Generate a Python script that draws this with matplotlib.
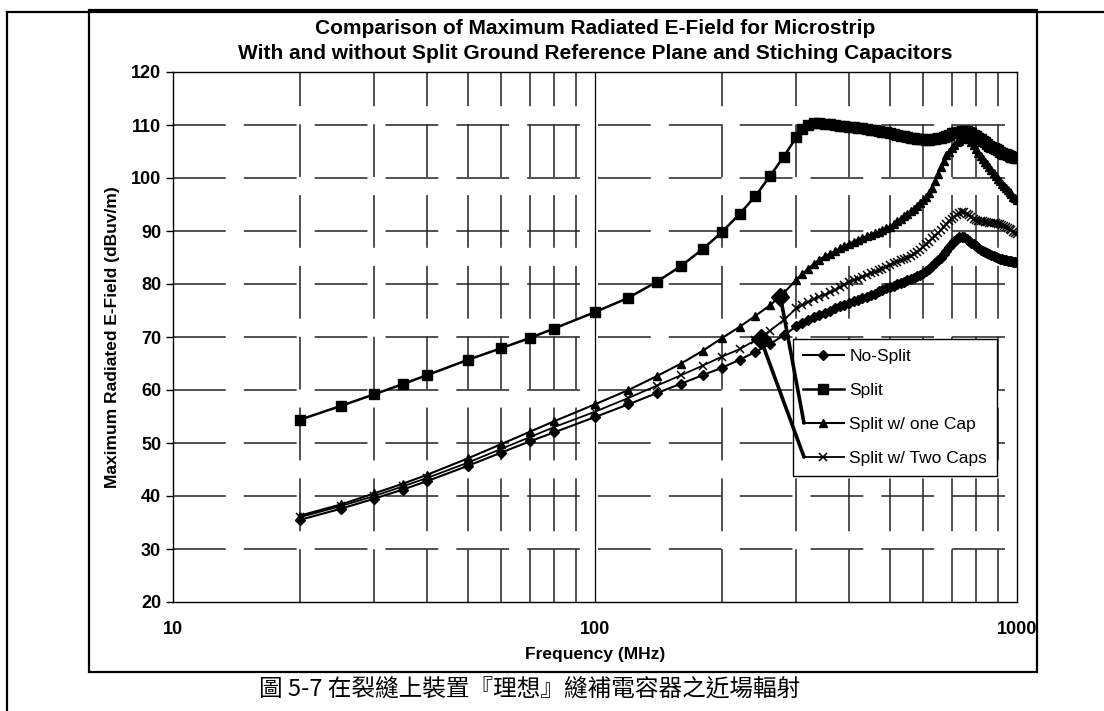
import matplotlib
matplotlib.use("Agg")
import matplotlib.pyplot as plt
from matplotlib.lines import Line2D
from matplotlib.patches import Rectangle
from matplotlib.ticker import FixedLocator, NullFormatter

# frequencies (MHz)
freq = [20, 25, 30, 35, 40, 50, 60, 70, 80, 100,
        120, 140, 160, 180, 200, 220, 240, 260, 280,
        300, 310, 320, 330, 340, 350, 360, 370, 380, 390,
        400, 410, 420, 430, 440, 450, 460, 470, 480, 490,
        500, 510, 520, 530, 540, 550, 560, 570, 580, 590,
        600, 610, 620, 630, 640, 650, 660, 670, 680, 690,
        700, 710, 720, 730, 740, 750, 760, 770, 780, 790,
        800, 810, 820, 830, 840, 850, 860, 870, 880, 890,
        900, 910, 920, 930, 940, 950, 960, 970, 980, 990, 1000]

no_split = [35.5, 37.6, 39.5, 41.2, 42.8, 45.7, 48.2, 50.3, 52.0, 54.9,
            57.3, 59.4, 61.2, 62.8, 64.2, 65.7, 67.2, 68.7, 70.3,
            72.0, 72.6, 73.2, 73.7, 74.1, 74.6, 75.0, 75.5, 75.8, 76.1,
            76.4, 76.7, 77.0, 77.3, 77.6, 77.9, 78.2, 78.6, 78.9, 79.2,
            79.5, 79.7, 80.0, 80.2, 80.4, 80.7, 80.9, 81.2, 81.5, 81.7,
            82.0, 82.4, 82.9, 83.4, 84.0, 84.5, 85.0, 85.6, 86.2, 86.9,
            87.6, 88.1, 88.5, 88.8, 88.9, 88.8, 88.5, 88.2, 87.8, 87.5,
            87.1, 86.8, 86.5, 86.2, 86.0, 85.8, 85.6, 85.4, 85.3, 85.1,
            85.0, 84.8, 84.7, 84.6, 84.5, 84.4, 84.3, 84.3, 84.2, 84.2, 84.2]

split = [54.4, 57.0, 59.2, 61.1, 62.8, 65.7, 67.9, 69.8, 71.6, 74.7,
         77.4, 80.4, 83.4, 86.6, 89.8, 93.2, 96.6, 100.4, 104.0,
         107.7, 109.2, 110.0, 110.3, 110.3, 110.2, 110.1, 110.0, 109.9, 109.8,
         109.7, 109.6, 109.5, 109.4, 109.2, 109.1, 109.0, 108.9, 108.7, 108.6,
         108.5, 108.3, 108.2, 108.0, 107.9, 107.8, 107.6, 107.5, 107.4, 107.3,
         107.3, 107.2, 107.2, 107.3, 107.4, 107.5, 107.6, 107.8, 108.0, 108.2,
         108.4, 108.5, 108.6, 108.7, 108.8, 108.8, 108.8, 108.7, 108.5, 108.2,
         107.9, 107.6, 107.3, 107.0, 106.7, 106.4, 106.1, 105.9, 105.6, 105.4,
         105.2, 105.0, 104.8, 104.6, 104.5, 104.3, 104.2, 104.0, 103.9, 103.8, 103.7]

one_cap = [36.3, 38.4, 40.5, 42.3, 44.0, 47.1, 49.8, 52.1, 54.1, 57.3,
           60.0, 62.6, 65.0, 67.4, 69.8, 71.9, 74.0, 76.0, 78.3,
           80.8, 81.9, 82.9, 83.8, 84.6, 85.2, 85.7, 86.2, 86.7, 87.2,
           87.6, 88.0, 88.3, 88.7, 89.0, 89.3, 89.6, 89.9, 90.2, 90.5,
           90.8, 91.3, 91.8, 92.3, 92.8, 93.2, 93.7, 94.2, 94.8, 95.3,
           95.8, 96.4, 97.2, 98.1, 99.5, 100.8, 102.0, 103.3, 104.3, 105.0,
           105.7, 106.2, 106.7, 107.0, 107.3, 107.5, 107.5, 107.3, 106.8, 106.2,
           105.5, 104.8, 104.2, 103.6, 103.1, 102.6, 102.1, 101.6, 101.0, 100.4,
           99.8, 99.4, 98.9, 98.5, 98.1, 97.7, 97.3, 96.9, 96.5, 96.2, 95.8]

two_caps = [36.0, 38.1, 40.0, 41.8, 43.4, 46.3, 48.9, 51.1, 53.0, 55.9,
            58.5, 60.8, 62.8, 64.6, 66.3, 67.7, 69.4, 71.2, 73.2,
            75.4, 76.0, 76.6, 77.1, 77.6, 78.0, 78.4, 78.8, 79.4, 79.9,
            80.4, 80.7, 81.0, 81.4, 81.7, 82.0, 82.3, 82.6, 82.9, 83.3,
            83.6, 83.9, 84.2, 84.5, 84.7, 85.0, 85.3, 85.7, 86.1, 86.5,
            87.0, 87.5, 88.0, 88.6, 89.1, 89.6, 90.1, 90.7, 91.3, 91.8,
            92.3, 92.7, 93.1, 93.4, 93.6, 93.5, 93.3, 93.0, 92.7, 92.3,
            92.0, 91.9, 91.8, 91.8, 91.7, 91.7, 91.6, 91.6, 91.5, 91.5,
            91.4, 91.3, 91.1, 90.9, 90.7, 90.5, 90.3, 90.1, 89.9, 89.7, 89.5]

labels = ["No-Split", "Split", "Split w/ one Cap", "Split w/ Two Caps"]
y_ticks = [20, 30, 40, 50, 60, 70, 80, 90, 100, 110, 120]
x_ticks = [10, 100, 1000]
x_minor = [20, 30, 40, 50, 60, 70, 80, 90, 200, 300, 400, 500, 600, 700, 800, 900]

# callout targets (freq, value) for the legend leader lines
callout_one = (275, 77.6)
callout_two = (247, 69.6)

title = ("Comparison of Maximum Radiated E-Field for Microstrip\n"
         "With and without Split Ground Reference Plane and Stiching Capacitors")
caption = "圖 5-7 在裂縫上裝置『理想』縫補電容器之近場輻射"

plt.rcParams["font.family"] = ["Liberation Sans", "DejaVu Sans"]
plt.rcParams["lines.scale_dashes"] = False

W, H = 1104, 711
fig = plt.figure(figsize=(W / 100, H / 100), dpi=100)
ax = fig.add_axes([173 / W, 1 - 602 / H, (1017 - 173) / W, (602 - 72) / H])


def px(x, y):
    return x / W, 1 - y / H


# page frame + chart frame
fig.add_artist(Line2D([px(7, 0)[0], px(7, 0)[0]], [px(0, 12)[1], 0], color="black", lw=1.6))
fig.add_artist(Line2D([px(7, 0)[0], 1], [px(0, 12)[1], px(0, 12)[1]], color="black", lw=1.6))
fig.add_artist(Rectangle(px(89, 672), (1037 - 89) / W, (672 - 10) / H, transform=fig.transFigure,
                         fill=True, facecolor="white", edgecolor="black", lw=1.6, zorder=0))

dash = (0, (38, 13))
ax.set_xscale("log")
ax.set_xlim(10, 1000)
ax.set_ylim(20, 120)

for v in y_ticks[1:-1]:
    ax.axhline(v, color="#222222", lw=1.1, ls=dash, zorder=1)
for v in x_minor:
    ax.axvline(v, color="#222222", lw=1.1, ls=dash, zorder=1)
ax.axvline(100, color="black", lw=0.9, zorder=1)

ax.plot(freq, no_split, color="black", lw=1.5, marker="D", ms=5.5, label=labels[0], zorder=3)
ax.plot(freq, split, color="black", lw=1.8, marker="s", ms=7.5, label=labels[1], zorder=3)
ax.plot(freq, one_cap, color="black", lw=1.5, marker="^", ms=6, label=labels[2], zorder=3)
ax.plot(freq, two_caps, color="black", lw=1.3, marker="x", ms=6, mew=1.1, label=labels[3], zorder=3)

ax.yaxis.set_major_locator(FixedLocator(y_ticks))
ax.xaxis.set_major_locator(FixedLocator(x_ticks))
ax.xaxis.set_minor_locator(FixedLocator(x_minor))
ax.xaxis.set_minor_formatter(NullFormatter())
ax.set_xticklabels([str(v) for v in x_ticks])
ax.tick_params(axis="y", length=5, width=1, pad=3.5, labelsize=13)
ax.tick_params(axis="x", which="both", length=0, pad=14, labelsize=13)
for t in ax.get_xticklabels() + ax.get_yticklabels():
    t.set_fontweight("bold")
for s in ax.spines.values():
    s.set_linewidth(1.0)

ax.set_ylabel("Maximum Radiated E-Field (dBuv/m)", fontsize=12.5, fontweight="bold", labelpad=8)
ax.set_xlabel("Frequency (MHz)", fontsize=12.5, fontweight="bold", labelpad=6)
fig.text(595 / W, 1 - 41 / H, title, ha="center", va="center", fontsize=15,
         fontweight="bold", linespacing=1.45)

leg = ax.legend(loc="upper left", bbox_to_anchor=px(793, 339), bbox_transform=fig.transFigure,
                borderaxespad=0, fontsize=12.5, frameon=True, fancybox=False, framealpha=1,
                edgecolor="black", handlelength=2.4, handletextpad=0.3, labelspacing=1.1,
                borderpad=0.55)
leg.get_frame().set_linewidth(1.0)

# leader lines from legend entries to the curves
ax.annotate("", xy=callout_one, xytext=(804, H - 423), textcoords="figure pixels",
            arrowprops=dict(arrowstyle="-", lw=2.6, color="black", shrinkA=0, shrinkB=0),
            zorder=6)
ax.annotate("", xy=callout_two, xytext=(804, H - 457), textcoords="figure pixels",
            arrowprops=dict(arrowstyle="-", lw=2.6, color="black", shrinkA=0, shrinkB=0),
            zorder=6)
ax.plot(*callout_one, marker="D", ms=9, color="black", zorder=6)
ax.plot(*callout_two, marker="D", ms=10, color="black", zorder=6)

fig.text(530 / W, 1 - 690 / H, caption, ha="center", va="center", fontsize=17,
         family=["Noto Sans CJK TC", "DejaVu Sans"])

fig.savefig("out.png", dpi=100)
